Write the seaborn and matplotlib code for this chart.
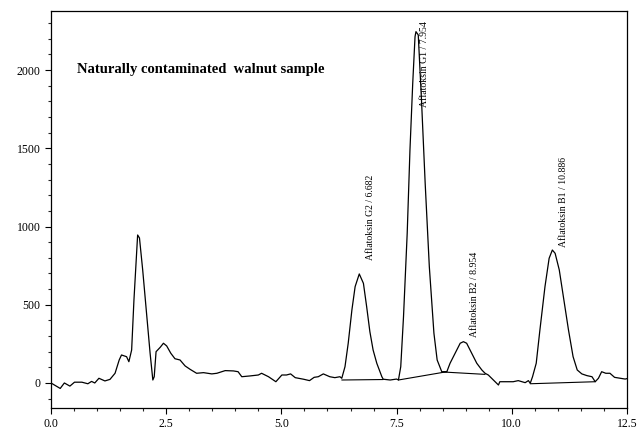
import matplotlib
matplotlib.use("Agg")
import matplotlib.pyplot as plt
from matplotlib.ticker import MultipleLocator
import seaborn as sns
import pandas as pd

# retention time (min) and detector signal
time_min = [0.0, 0.2, 0.29, 0.41, 0.51, 0.67, 0.8, 0.88, 0.95, 1.04, 1.17, 1.28,
            1.39, 1.48, 1.53, 1.64, 1.69, 1.75, 1.80, 1.88, 1.92, 1.99, 2.08, 2.15,
            2.21, 2.24, 2.28, 2.37, 2.44, 2.51, 2.60, 2.69, 2.80, 2.91, 3.02, 3.16,
            3.31, 3.49, 3.60, 3.78, 3.96, 4.06, 4.14, 4.32, 4.50, 4.57, 4.72, 4.88,
            5.01, 5.11, 5.20, 5.30, 5.48, 5.61, 5.71, 5.80, 5.91, 6.05, 6.16, 6.27,
            6.31, 6.38, 6.45, 6.53, 6.60, 6.69, 6.78, 6.85, 6.92, 6.99, 7.07, 7.18,
            7.21, 7.36, 7.50, 7.54, 7.59, 7.65, 7.73, 7.79, 7.85, 7.90, 7.92, 7.97,
            8.04, 8.12, 8.21, 8.31, 8.38, 8.48, 8.59, 8.66, 8.77, 8.88, 8.95, 9.02,
            9.13, 9.24, 9.35, 9.42, 9.49, 9.60, 9.71, 9.74, 9.89, 10.03, 10.14, 10.29,
            10.36, 10.40, 10.45, 10.53, 10.61, 10.72, 10.81, 10.88, 10.94, 11.03, 11.12,
            11.23, 11.33, 11.42, 11.52, 11.63, 11.74, 11.81, 11.88, 11.95, 12.04, 12.13,
            12.23, 12.35, 12.46, 12.5]
signal = [0, -35, 0, -20, 5, 5, -5, 10, 0, 30, 13, 23,
          62, 147, 179, 168, 136, 211, 530, 946, 927, 722, 424, 192,
          19, 40, 200, 228, 254, 237, 190, 155, 147, 109, 87, 62,
          66, 58, 62, 79, 77, 72, 40, 45, 51, 62, 40, 8,
          51, 51, 58, 34, 24, 15, 36, 40, 58, 40, 34, 40,
          30, 104, 254, 467, 616, 697, 637, 488, 328, 211, 126, 40,
          24, 19, 25, 19, 104, 424, 957, 1490, 1916, 2214, 2246, 2225,
          1810, 1277, 744, 318, 147, 72, 72, 126, 190, 254, 264, 254,
          190, 126, 83, 62, 51, 19, -13, 8, 8, 8, 15, 2,
          15, -2, 40, 126, 339, 616, 797, 850, 829, 723, 552,
          339, 168, 83, 58, 47, 40, 8, 30, 72, 62, 62,
          36, 30, 25, 28]

# integration baselines under each peak: (t_start, y_start, t_end, y_end)
base_t0 = [6.31, 7.54, 8.52, 10.40]
base_y0 = [19, 19, 70, -5]
base_t1 = [7.21, 8.59, 9.42, 11.81]
base_y1 = [22, 72, 55, 8]

peak_labels = ["Aflatoksin G2 / 6.682", "Aflatoksin G1 / 7.954",
               "Aflatoksin B2 / 8.954", "Aflatoksin B1 / 10.886"]
label_t = [6.94, 8.10, 9.20, 11.12]
label_y = [786, 1766, 296, 871]

df = pd.DataFrame({"time": time_min, "signal": signal})

sns.set_style("ticks")
plt.rcParams["font.family"] = ["Liberation Serif", "DejaVu Serif"]

fig = plt.figure(figsize=(6.38, 4.30), dpi=100)
ax = fig.add_axes([51 / 638, 22 / 430, 576 / 638, 397 / 430])

sns.lineplot(data=df, x="time", y="signal", ax=ax, color="black",
             linewidth=0.9, estimator=None, sort=False)

for t0, y0, t1, y1 in zip(base_t0, base_y0, base_t1, base_y1):
    ax.plot([t0, t1], [y0, y1], color="black", linewidth=0.8)

for txt, tx, ty in zip(peak_labels, label_t, label_y):
    ax.text(tx, ty, txt, rotation=90, ha="center", va="bottom",
            fontsize=7, color="black")

ax.text(0.56, 2001, "Naturally contaminated  walnut sample", fontsize=10.5,
        fontweight="bold", ha="left", va="center", color="black")

ax.set_xlim(0, 12.5)
ax.set_ylim(-160, 2378)
ax.xaxis.set_major_locator(MultipleLocator(2.5))
ax.xaxis.set_minor_locator(MultipleLocator(0.5))
ax.yaxis.set_major_locator(MultipleLocator(500))
ax.yaxis.set_minor_locator(MultipleLocator(100))
ax.xaxis.set_major_formatter(matplotlib.ticker.FormatStrFormatter("%.1f"))
ax.tick_params(which="major", direction="out", length=4, width=0.8,
               labelsize=8.5, colors="black")
ax.tick_params(which="minor", direction="out", length=2.5, width=0.8)
ax.set_xlabel("")
ax.set_ylabel("")
for s in ax.spines.values():
    s.set_visible(True)
    s.set_linewidth(0.9)
    s.set_color("black")

fig.savefig("out.png", dpi=100)
